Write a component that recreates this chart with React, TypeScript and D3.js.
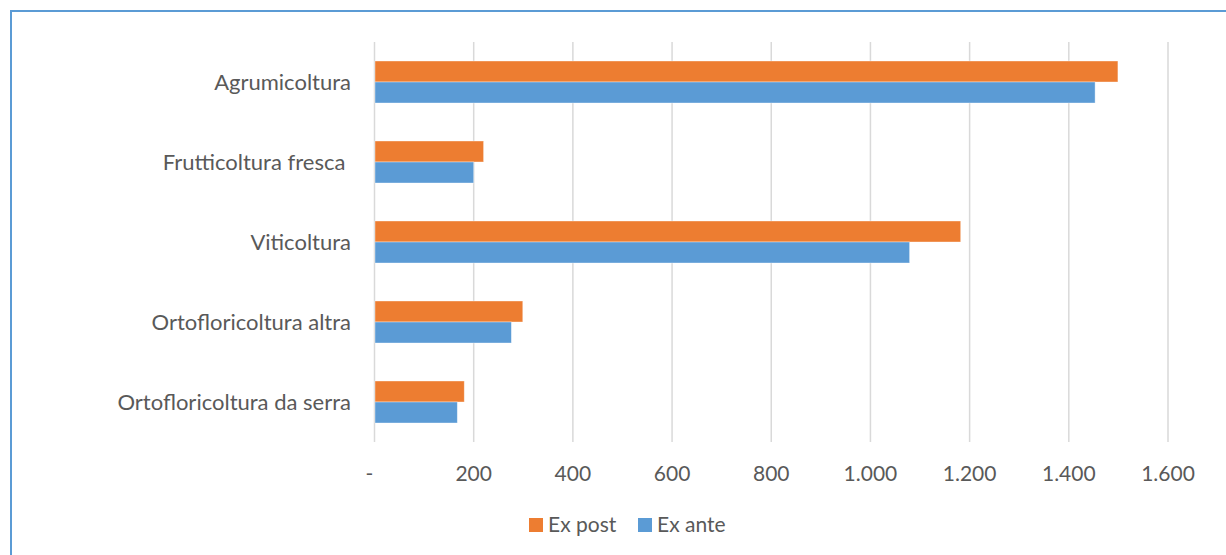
import { useRef, useEffect } from 'react';
import * as d3 from 'd3';

const categories = [
    'Agrumicoltura',
    'Frutticoltura fresca ',
    'Viticoltura',
    'Ortofloricoltura altra',
    'Ortofloricoltura da serra',
];
const series = ['Ex post', 'Ex ante'];
const exPost = [1499, 220, 1182, 299, 181];
const exAnte = [1453, 200, 1079, 276, 167];
const ticks = [0, 200, 400, 600, 800, 1000, 1200, 1400, 1600];

const colors = { 'Ex post': '#ED7D31', 'Ex ante': '#5B9BD5' };

const App = () => {
    const ref = useRef<SVGSVGElement>(null);

    useEffect(() => {
        const svg = d3.select(ref.current);
        svg.selectAll('*').remove();

        const font = 'Lato, "Open Sans", sans-serif';

        // chart border (only top and left visible)
        svg.append('path')
            .attr('d', 'M11,555 L11,11 L1226,11')
            .attr('fill', 'none')
            .attr('stroke', '#5B9BD5')
            .attr('stroke-width', 2);

        const x = d3.scaleLinear().domain([0, 1600]).range([374.5, 1168]);
        const y = d3.scaleBand().domain(categories).range([42, 442])
            .paddingInner(0.475).paddingOuter(0.2375);
        const ySub = d3.scaleBand().domain(series).range([0, y.bandwidth()]);

        // gridlines
        svg.append('g').selectAll('line')
            .data(ticks)
            .enter().append('line')
            .attr('x1', d => x(d))
            .attr('x2', d => x(d))
            .attr('y1', 42)
            .attr('y2', 442)
            .attr('stroke', '#d9d9d9')
            .attr('stroke-width', 1.5);

        const fmt = d3.formatLocale({ decimal: ',', thousands: '.', grouping: [3], currency: ['', ''] }).format(',d');

        svg.append('g').selectAll('text')
            .data(ticks)
            .enter().append('text')
            .attr('x', d => d === 0 ? x(d) - 5 : x(d))
            .attr('y', 481)
            .attr('text-anchor', 'middle')
            .attr('font-family', font)
            .attr('font-size', '21px')
            .attr('fill', '#595959')
            .text(d => d === 0 ? '-' : fmt(d));

        const rows = categories.map((c, i) => ({ c, values: [exPost[i], exAnte[i]] }));

        const row = svg.append('g').selectAll('g')
            .data(rows)
            .enter().append('g')
            .attr('transform', d => `translate(0, ${y(d.c)})`);

        row.selectAll('rect')
            .data(d => d.values.map((v, j) => ({ s: series[j], v })))
            .enter().append('rect')
            .attr('x', x(0) + 0.5)
            .attr('y', d => ySub(d.s))
            .attr('width', d => x(d.v) - x(0) - 0.5)
            .attr('height', ySub.bandwidth())
            .attr('fill', d => colors[d.s])
            .attr('stroke', '#ffffff')
            .attr('stroke-opacity', 0.5)
            .attr('stroke-width', 0.75);

        svg.append('g').selectAll('text')
            .data(categories)
            .enter().append('text')
            .attr('x', 351)
            .attr('y', d => y(d) + y.bandwidth() / 2)
            .attr('dy', '0.35em')
            .attr('text-anchor', 'end')
            .attr('font-family', font)
            .attr('font-size', '22px')
            .attr('fill', '#595959')
            .style('white-space', 'pre')
            .text(d => d);

        // legend
        const legend = svg.append('g');
        const legendX = [529, 638];
        series.forEach((s, i) => {
            legend.append('rect')
                .attr('x', legendX[i])
                .attr('y', 518)
                .attr('width', 14)
                .attr('height', 14)
                .attr('fill', colors[s]);
            legend.append('text')
                .attr('x', legendX[i] + 19)
                .attr('y', 532)
                .attr('font-family', font)
                .attr('font-size', '21px')
                .attr('fill', '#595959')
                .text(s);
        });
    }, []);

    return (
        <svg
            ref={ref}
            width={1226}
            height={555}
            style={{ position: 'absolute', top: 0, left: 0, background: '#fff' }}
        ></svg>
    );
};

export default App;
